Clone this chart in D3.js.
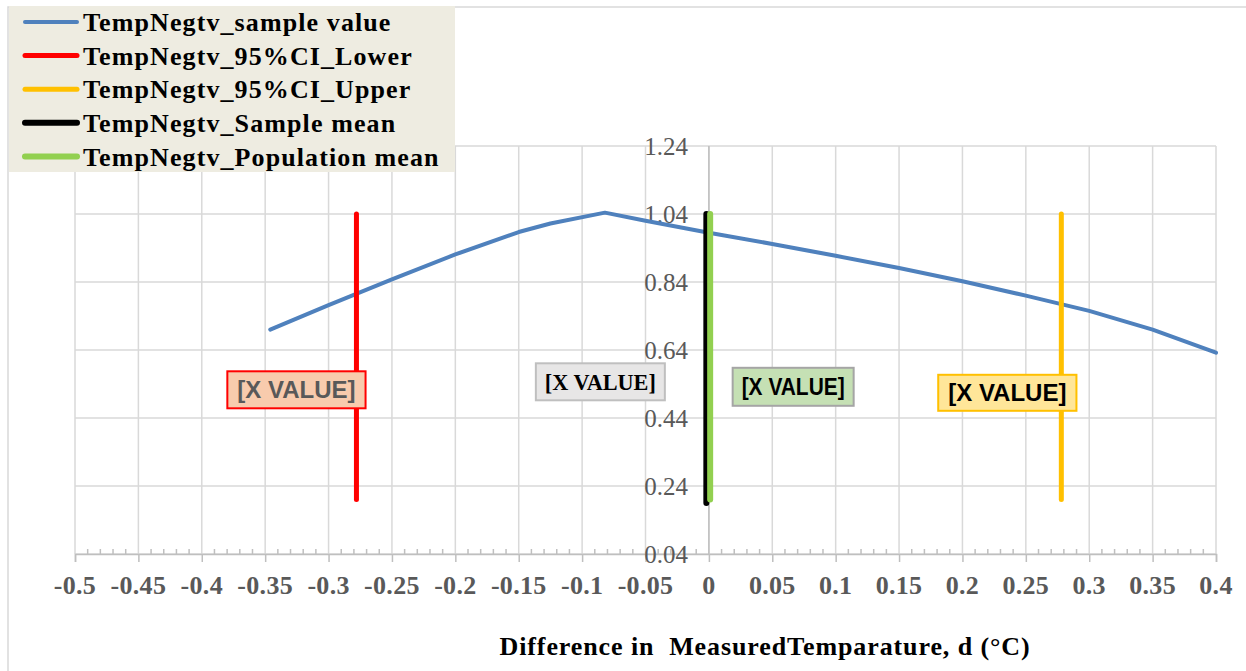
<!DOCTYPE html>
<html>
<head>
<meta charset="utf-8">
<script src="https://cdn.jsdelivr.net/npm/d3@7/dist/d3.min.js"></script>
<style>
  body { margin: 0; background: #fff; }
  svg { display: block; }
</style>
</head>
<body>
<svg id="chart" width="1246" height="671"></svg>
<script>
// ---- data ----
var xTickValues = [-0.5, -0.45, -0.4, -0.35, -0.3, -0.25, -0.2, -0.15, -0.1, -0.05, 0, 0.05, 0.1, 0.15, 0.2, 0.25, 0.3, 0.35, 0.4];
var xTickLabels = ["-0.5", "-0.45", "-0.4", "-0.35", "-0.3", "-0.25", "-0.2", "-0.15", "-0.1", "-0.05", "0", "0.05", "0.1", "0.15", "0.2", "0.25", "0.3", "0.35", "0.4"];
var yTickValues = [0.04, 0.24, 0.44, 0.64, 0.84, 1.04, 1.24];
var yTickLabels = ["0.04", "0.24", "0.44", "0.64", "0.84", "1.04", "1.24"];

// blue curve
var sampleX = [-0.346, -0.3, -0.25, -0.2, -0.15, -0.125, -0.082, -0.05, 0, 0.05, 0.1, 0.15, 0.2, 0.25, 0.3, 0.35, 0.4];
var sampleY = [0.700, 0.772, 0.848, 0.921, 0.987, 1.012, 1.044, 1.020, 0.985, 0.952, 0.917, 0.881, 0.842, 0.800, 0.755, 0.700, 0.632];

// vertical marker lines
var lowerX = [-0.278, -0.278];
var lowerY = [0.2, 1.04];
var upperX = [0.278, 0.278];
var upperY = [0.2, 1.04];
var sampleMeanX = [-0.002, -0.002];
var sampleMeanY = [0.19, 1.04];
var popMeanX = [0.001, 0.001];
var popMeanY = [0.2, 1.04];

var seriesNames = ["TempNegtv_sample value", "TempNegtv_95%CI_Lower", "TempNegtv_95%CI_Upper", "TempNegtv_Sample mean", "TempNegtv_Population mean"];
var seriesColors = ["#4f81bd", "#ff0000", "#ffc000", "#000000", "#92d050"];
var seriesWidths = [4, 5, 5, 6, 6];

var labelText = "[X VALUE]";
var axisTitle = "Difference in  MeasuredTemparature, d (\u00B0C)";

// ---- layout ----
var svg = d3.select("svg#chart");

var x = d3.scaleLinear().domain([-0.5, 0.4]).range([75, 1216]);
var y = d3.scaleLinear().domain([0.04, 1.24]).range([554, 146]);

var gridColor = "#d9d9d9";
var axisColor = "#bfbfbf";
var textGrey = "#595959";
var serif = "'Liberation Serif', 'Times New Roman', serif";
var sans = "'Liberation Sans', Arial, sans-serif";

// chart outline
svg.append("rect")
  .attr("x", 8).attr("y", 7)
  .attr("width", 1260).attr("height", 700)
  .attr("fill", "none")
  .attr("stroke", gridColor)
  .attr("stroke-width", 1.5);

// vertical gridlines
svg.append("g").selectAll("line")
  .data(xTickValues)
  .enter().append("line")
  .attr("x1", d => x(d)).attr("x2", d => x(d))
  .attr("y1", y(1.24)).attr("y2", y(0.04))
  .attr("stroke", gridColor)
  .attr("stroke-width", 1.5);

// horizontal gridlines
svg.append("g").selectAll("line")
  .data(yTickValues)
  .enter().append("line")
  .attr("x1", x(-0.5)).attr("x2", x(0.4))
  .attr("y1", d => y(d)).attr("y2", d => y(d))
  .attr("stroke", gridColor)
  .attr("stroke-width", 1.5);

// x axis with major ticks pointing down and minor ticks pointing up
var xAxis = d3.axisBottom(x)
  .tickValues(xTickValues)
  .tickSize(8)
  .tickFormat("");
var gx = svg.append("g")
  .attr("transform", "translate(0," + y(0.04) + ")")
  .call(xAxis);
gx.select(".domain").attr("stroke", axisColor).attr("stroke-width", 1.5);
gx.selectAll(".tick line").attr("stroke", axisColor).attr("stroke-width", 1.5);

var minor = d3.range(-50, 41).map(d => d / 100).filter(d => Math.round(d * 100) % 5 !== 0);
svg.append("g").selectAll("line")
  .data(minor)
  .enter().append("line")
  .attr("x1", d => x(d)).attr("x2", d => x(d))
  .attr("y1", y(0.04) - 5).attr("y2", y(0.04))
  .attr("stroke", axisColor)
  .attr("stroke-width", 1.5);

svg.append("g").selectAll("text")
  .data(xTickValues)
  .enter().append("text")
  .attr("x", d => x(d))
  .attr("y", y(0.04) + 40)
  .attr("text-anchor", "middle")
  .attr("font-family", serif)
  .attr("font-weight", "bold")
  .attr("font-size", 26)
  .attr("letter-spacing", 0.3)
  .attr("fill", textGrey)
  .text((d, i) => xTickLabels[i]);

// y axis sitting at x = 0
svg.append("line")
  .attr("x1", x(0)).attr("x2", x(0))
  .attr("y1", y(1.24)).attr("y2", y(0.04))
  .attr("stroke", axisColor)
  .attr("stroke-width", 1.5);

svg.append("g").selectAll("text")
  .data(yTickValues)
  .enter().append("text")
  .attr("x", x(0) - 21)
  .attr("y", d => y(d))
  .attr("dy", "0.35em")
  .attr("text-anchor", "end")
  .attr("font-family", serif)
  .attr("font-size", 25)
  .attr("fill", textGrey)
  .text((d, i) => yTickLabels[i]);

// series
var line = d3.line()
  .x(d => x(d[0]))
  .y(d => y(d[1]));

var seriesData = [
  d3.zip(sampleX, sampleY),
  d3.zip(lowerX, lowerY),
  d3.zip(upperX, upperY),
  d3.zip(sampleMeanX, sampleMeanY),
  d3.zip(popMeanX, popMeanY)
];

svg.append("g").selectAll("path")
  .data(seriesData)
  .enter().append("path")
  .attr("d", line)
  .attr("fill", "none")
  .attr("stroke", (d, i) => seriesColors[i])
  .attr("stroke-width", (d, i) => seriesWidths[i])
  .attr("stroke-linecap", "round")
  .attr("stroke-linejoin", "round");

// data labels, boxed; fitW squeezes the text to a given width
function addLabel(cx, cy, font, size, color, fill, stroke, padX, h, fitW) {
  var g = svg.append("g");
  var t = g.append("text")
    .attr("x", cx).attr("y", cy)
    .attr("dy", "0.36em")
    .attr("text-anchor", "middle")
    .attr("font-family", font)
    .attr("font-weight", "bold")
    .attr("font-size", size)
    .attr("fill", color)
    .text(labelText);
  if (fitW) {
    t.attr("textLength", fitW).attr("lengthAdjust", "spacingAndGlyphs");
  }
  var w = (fitW || t.node().getComputedTextLength()) + 2 * padX;
  g.insert("rect", "text")
    .attr("x", cx - w / 2).attr("y", cy - h / 2)
    .attr("width", w).attr("height", h)
    .attr("fill", fill)
    .attr("stroke", stroke)
    .attr("stroke-width", 2);
}

addLabel(x(lowerX[0]) - 60, y(0.52) - 1, sans, 24, textGrey, "#f8cbad", "#ff0000", 10, 37);
addLabel(x(sampleMeanX[0]) - 106, y(0.52) - 9, serif, 24, "#000000", "#e7e6e6", "#bfbfbf", 9, 37, 111);
addLabel(x(popMeanX[0]) + 83, y(0.52) - 4, sans, 24, "#000000", "#c5e0b4", "#a5a5a5", 9, 38, 103);
addLabel(x(upperX[0]) - 54, y(0.52) + 2, sans, 24, "#000000", "#ffe699", "#ffc000", 10, 36);

// axis title
svg.append("text")
  .attr("x", 765)
  .attr("y", 655)
  .attr("text-anchor", "middle")
  .attr("font-family", serif)
  .attr("font-weight", "bold")
  .attr("font-size", 26)
  .attr("letter-spacing", 0.9)
  .attr("fill", "#000000")
  .style("white-space", "pre")
  .text(axisTitle);

// legend
var legend = svg.append("g");
legend.append("rect")
  .attr("x", 9).attr("y", 6)
  .attr("width", 446).attr("height", 166)
  .attr("fill", "#eeece1");

var rows = legend.selectAll("g.row")
  .data(seriesNames)
  .enter().append("g")
  .attr("class", "row")
  .attr("transform", (d, i) => "translate(0," + (22 + i * 33.6) + ")");

rows.append("line")
  .attr("x1", 25).attr("x2", 77)
  .attr("stroke", (d, i) => seriesColors[i])
  .attr("stroke-width", (d, i) => seriesWidths[i])
  .attr("stroke-linecap", "round");

rows.append("text")
  .attr("x", 83)
  .attr("dy", "0.35em")
  .attr("font-family", serif)
  .attr("font-weight", "bold")
  .attr("font-size", 26)
  .attr("letter-spacing", 1.1)
  .attr("fill", "#000000")
  .text(d => d);
</script>
</body>
</html>
